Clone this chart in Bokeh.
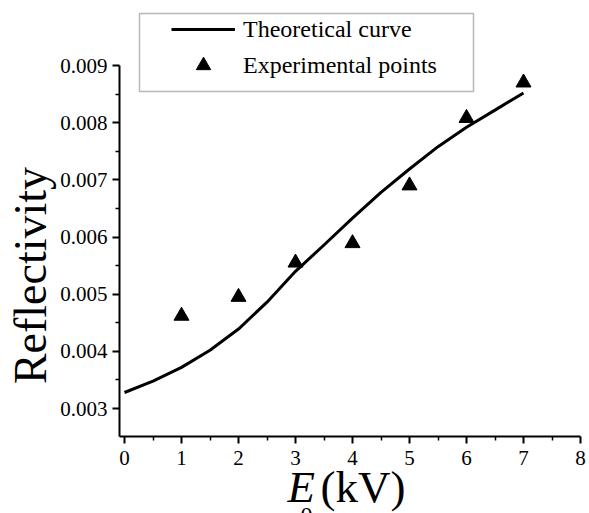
import math
from bokeh.plotting import figure
from bokeh.models import (Range1d, FixedTicker, PrintfTickFormatter, Legend, LegendItem,
                          Label, BoxAnnotation)
from bokeh.embed import file_html
from bokeh.resources import INLINE

# ---- data ----
theory_x = [0, 0.5, 1.0, 1.5, 2.0, 2.5, 3.0, 3.5, 4.0, 4.5, 5.0, 5.5, 6.0, 6.5, 7.0]
theory_y = [0.00328, 0.00348, 0.00372, 0.00402, 0.00439, 0.00486, 0.00540, 0.00586,
            0.00633, 0.00678, 0.00719, 0.00758, 0.00792, 0.00822, 0.00852]
exp_x = [1, 2, 3, 4, 5, 6, 7]
exp_y = [0.00462, 0.00495, 0.00555, 0.00589, 0.00690, 0.00808, 0.00870]
x_ticks = [0, 1, 2, 3, 4, 5, 6, 7, 8]
x_minor = [0.5, 1.5, 2.5, 3.5, 4.5, 5.5, 6.5, 7.5]
y_ticks = [0.003, 0.004, 0.005, 0.006, 0.007, 0.008, 0.009]
y_minor = [0.0035, 0.0045, 0.0055, 0.0065, 0.0075, 0.0085]
series_names = ["Theoretical curve", "Experimental points"]
x_label_main = "E"
x_label_sub = "0"
x_label_rest = "(kV)"
y_label = "Reflectivity"

SERIF = "Liberation Serif"

# ---- layout (pixels) ----
W, H = 589, 513
AX_L, AX_B = 119, 436                      # axis positions
X_AT0, X_AT8 = 124, 580                    # pixel of x=0 and x=8
Y_AT3, Y_AT9 = 408, 65                     # pixel of y=0.003 and y=0.009

xs = (X_AT8 - X_AT0) / 8.0
ys = (Y_AT3 - Y_AT9) / 0.006


def px2x(px):
    return (px - X_AT0) / xs


def py2y(py):
    return 0.003 + (Y_AT3 - py) / ys


XR = (px2x(0), px2x(W))
YR = (py2y(H), py2y(0))

p = figure(width=W, height=H, output_backend="svg", toolbar_location=None,
           x_range=Range1d(*XR), y_range=Range1d(*YR),
           min_border_left=0, min_border_right=0, min_border_top=0, min_border_bottom=0)
p.outline_line_color = None
p.xgrid.visible = False
p.ygrid.visible = False

for ax in (p.xaxis[0], p.yaxis[0]):
    ax.axis_line_width = 2
    ax.axis_line_color = "black"
    ax.major_tick_line_width = 2
    ax.minor_tick_line_width = 1.5
    ax.major_tick_line_color = "black"
    ax.minor_tick_line_color = "black"
    ax.major_tick_in = 0
    ax.major_tick_out = 7
    ax.minor_tick_in = 0
    ax.minor_tick_out = 4
    ax.major_label_text_font = SERIF
    ax.major_label_text_font_size = "21px"
    ax.major_label_text_color = "black"
    ax.major_label_standoff = 5

p.xaxis.ticker = FixedTicker(ticks=x_ticks, minor_ticks=x_minor)
p.yaxis.ticker = FixedTicker(ticks=y_ticks, minor_ticks=y_minor)
p.xaxis.formatter = PrintfTickFormatter(format="%d")
p.yaxis.formatter = PrintfTickFormatter(format="%.3f")
p.xaxis.fixed_location = py2y(AX_B)
p.yaxis.fixed_location = px2x(AX_L)
p.xaxis.bounds = (px2x(AX_L), 8.0)
p.yaxis.bounds = (py2y(AX_B), 0.009)
p.xaxis.major_label_standoff = 7

r_line = p.line(theory_x, theory_y, line_color="black", line_width=3, line_join="round")
r_pts = p.scatter(exp_x, exp_y, marker="triangle", size=15, fill_color="black",
                  line_color="black")

# legend frame
p.add_layout(BoxAnnotation(left=px2x(139), right=px2x(473), top=py2y(13), bottom=py2y(91),
                           fill_alpha=0, line_color="#111111", line_width=1.5))

legend = Legend(items=[LegendItem(label=series_names[0], renderers=[r_line]),
                       LegendItem(label=series_names[1], renderers=[r_pts])],
                location=(171, H - 83), padding=0, spacing=-8,
                glyph_width=64, glyph_height=36, label_height=28, label_standoff=8,
                border_line_alpha=0, background_fill_alpha=0,
                label_text_font=SERIF, label_text_font_size="24px",
                label_text_color="black")
p.add_layout(legend)

# axis titles
p.add_layout(Label(x=px2x(30), y=py2y(275), text=y_label, angle=math.pi / 2,
                   text_font=SERIF, text_font_size="46px", text_align="center",
                   text_baseline="alphabetic", text_color="black"))
p.add_layout(Label(x=px2x(287), y=py2y(486), text=x_label_main, text_font=SERIF,
                   text_font_style="italic", text_font_size="45px",
                   text_baseline="alphabetic", text_color="black"))
p.add_layout(Label(x=px2x(300), y=py2y(515), text=x_label_sub, text_font=SERIF,
                   text_font_size="24px", text_baseline="alphabetic", text_color="black"))
p.add_layout(Label(x=px2x(320), y=py2y(486), text=x_label_rest, text_font=SERIF,
                   text_font_size="45px", text_baseline="alphabetic", text_color="black"))

open("out.html", "w").write(file_html(p, INLINE))
